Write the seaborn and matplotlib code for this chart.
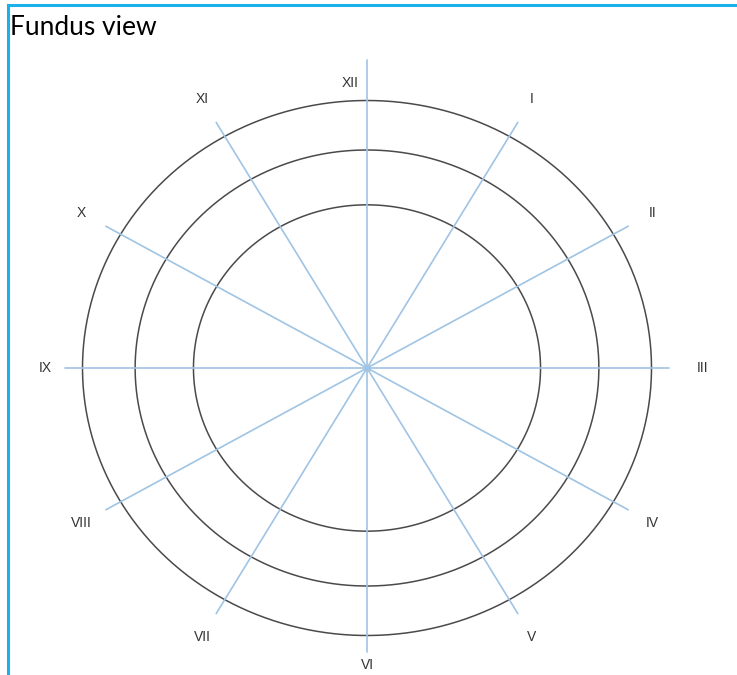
import numpy as np
import pandas as pd
from matplotlib import pyplot as plt
import seaborn as sns

# clock positions and rings of the fundus chart
hours = ['XII', 'I', 'II', 'III', 'IV', 'V', 'VI', 'VII', 'VIII', 'IX', 'X', 'XI']
hour_angles = [0, 30, 60, 90, 120, 150, 180, 210, 240, 270, 300, 330]  # degrees clockwise from 12
ring_radii = [0.61, 0.815, 1.0]
title = 'Fundus view'

sns.set_style('white')

W, H = 737, 675
fig = plt.figure(figsize=(W / 100, H / 100), dpi=100)
# axes box: left edge and top edge carry the blue frame
ax = fig.add_axes([8 / W, 0, (W - 8) / W, (H - 5) / H])

# pixel -> data mapping (circle centre and stretch of the original drawing)
cx, cy, sx, sy = 367, 368, 284.5, 267.5
ax.set_xlim((8 - cx) / sx, (W - cx) / sx)
ax.set_ylim((cy - H) / sy, (cy - 5) / sy)

# rings
t = np.linspace(0, 2 * np.pi, 400)
rings = pd.concat([pd.DataFrame({'x': r * np.cos(t), 'y': r * np.sin(t), 'ring': i})
                   for i, r in enumerate(ring_radii)])
sns.lineplot(data=rings, x='x', y='y', units='ring', estimator=None, sort=False,
             color='#4a4a4a', linewidth=1.1, ax=ax, legend=False)

# clock spokes (the 12 o'clock one runs a bit further up, past its label)
spokes = []
for i, a in enumerate(hour_angles):
    th = np.deg2rad(a)
    ln = 1.15 if a == 0 else 1.06
    spokes.append(pd.DataFrame({'x': [0, ln * np.sin(th)],
                                'y': [0, ln * np.cos(th)], 'spoke': i}))
spokes = pd.concat(spokes)
sns.lineplot(data=spokes, x='x', y='y', units='spoke', estimator=None, sort=False,
             color='#9fc4e4', linewidth=1.2, ax=ax, legend=False)
ax.scatter([0], [0], s=30, color='#9fc4e4', alpha=0.6, linewidths=0, zorder=3)

# hour labels (radial distance tweaked a little per position, as in the original)
label_r = {0: 1.065, 90: 1.18, 180: 1.11, 270: 1.13}
for name, a in zip(hours, hour_angles):
    th = np.deg2rad(a)
    r = label_r.get(a, 1.16)
    ax.text(r * np.sin(th) - (0.06 if a == 0 else 0), r * np.cos(th), name,
            ha='center', va='center', fontsize=10, color='#333333',
            family=['Liberation Sans', 'DejaVu Sans'])

ax.text(0.003, 0.985, title, transform=ax.transAxes, ha='left', va='top',
        fontsize=19, color='black', family=['Lato', 'DejaVu Sans'])

ax.set_xlabel('')
ax.set_ylabel('')
ax.set_xticks([])
ax.set_yticks([])
for side in ['right', 'bottom']:
    ax.spines[side].set_visible(False)
for side in ['top', 'left']:
    ax.spines[side].set_color('#1ab0ec')
    ax.spines[side].set_linewidth(2.2)

fig.savefig('out.png', dpi=100)
